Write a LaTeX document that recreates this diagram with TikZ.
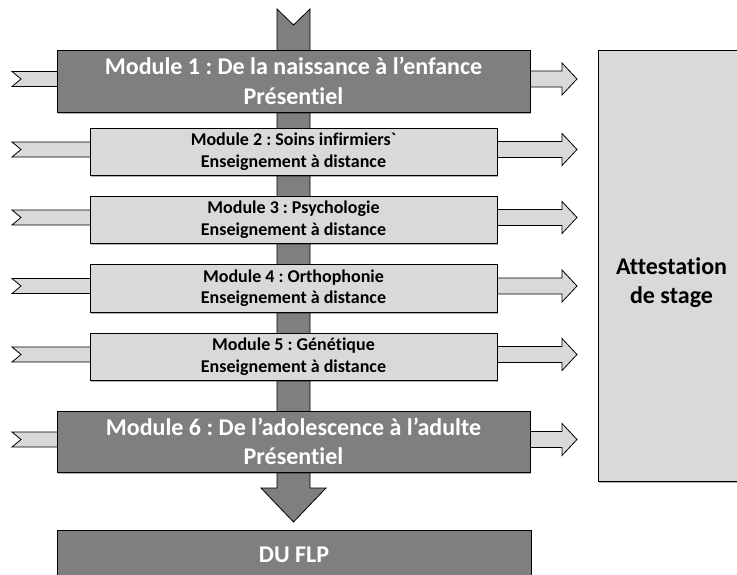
\documentclass[tikz,border=0pt]{standalone}
\usepackage{fontspec}
\setmainfont{Carlito}[Ligatures={NoCommon}]
\usetikzlibrary{calc,shadows}
\definecolor{darkbox}{HTML}{7F7F7F}
\definecolor{lightbox}{HTML}{D9D9D9}
\tikzset{
  boxbase/.style={rectangle, draw=black, line width=0.9pt, inner sep=0pt, align=center,
    font=\bfseries, drop shadow={shadow xshift=1.2pt, shadow yshift=-1.5pt, opacity=0.3, fill=black}},
  darkmod/.style={boxbase, fill=darkbox, text=white, font=\fontsize{24}{29.5}\selectfont\bfseries},
  lightmod/.style={boxbase, fill=lightbox, text=black, font=\fontsize{18}{21.5}\selectfont\bfseries},
  flowarr/.style={draw=black, line width=0.8pt, fill=lightbox, line join=miter},
  mainarr/.style={draw=black, line width=0.8pt, fill=darkbox, line join=miter},
}
\newcommand\inarrow[1]{%
  \draw[flowarr] ($(#1.west -| tailx)+(0,-9.5)$) -- ($(#1.west -| notchx)+(0,-2)$)
    -- ($(#1.west -| tailx)+(0,5.5)$) -- ($(#1.west)+(5,5.5)$) -- ($(#1.west)+(5,-9.5)$) -- cycle;}
\newcommand\outarrow[1]{%
  \draw[flowarr] ($(#1.east)+(-5,-10)$) -- ($(#1.east -| headx)+(0,-10)$)
    -- ($(#1.east -| headx)+(0,-18)$) -- ($(#1.east -| tipx)+(0,-2)$)
    -- ($(#1.east -| headx)+(0,14)$) -- ($(#1.east -| headx)+(0,6)$)
    -- ($(#1.east)+(-5,6)$) -- cycle;}
\begin{document}
\frenchspacing
\begin{tikzpicture}[x=1pt,y=-1pt]
\useasboundingbox (0,0) rectangle (737,574);
\coordinate (tailx) at (12,0);
\coordinate (notchx) at (21,0);
\coordinate (headx) at (562,0);
\coordinate (tipx) at (577,0);
% main vertical arrow
\coordinate (vtop) at (293.5,9);
\coordinate (vtip) at (293.5,522);
\draw[mainarr] (277,9) -- (293.5,25) -- (310,9) -- (310,488) -- (326,488) -- (vtip)
  -- (261,488) -- (277,488) -- cycle;
% box centres
\path
  (293.5,81)    coordinate (c1)
  (293.5,151.5) coordinate (c2)
  (293.5,219.5) coordinate (c3)
  (293.5,288)   coordinate (c4)
  (293.5,356.5) coordinate (c5)
  (293.5,441.5) coordinate (c6);
% placeholders giving anchors for the side arrows
\node[minimum width=473pt, minimum height=62pt, inner sep=0pt] (p1) at (c1) {};
\node[minimum width=407pt, minimum height=47pt, inner sep=0pt] (p2) at (c2) {};
\node[minimum width=407pt, minimum height=47pt, inner sep=0pt] (p3) at (c3) {};
\node[minimum width=407pt, minimum height=48pt, inner sep=0pt] (p4) at (c4) {};
\node[minimum width=407pt, minimum height=47pt, inner sep=0pt] (p5) at (c5) {};
\node[minimum width=473pt, minimum height=61pt, inner sep=0pt] (p6) at (c6) {};
\foreach \n in {p1,p2,p3,p4,p5,p6}{\inarrow{\n}\outarrow{\n}}
% module boxes
\node[darkmod, minimum width=473pt, minimum height=62pt] (m1) at (c1)
  {Module 1 : De la naissance à l’enfance\\Présentiel};
\node[lightmod, minimum width=407pt, minimum height=47pt] (m2) at (c2)
  {Module 2 : Soins infirmiers\textasciigrave\\Enseignement à distance};
\node[lightmod, minimum width=407pt, minimum height=47pt] (m3) at (c3)
  {Module 3 : Psychologie\\Enseignement à distance};
\node[lightmod, minimum width=407pt, minimum height=48pt] (m4) at (c4)
  {Module 4 : Orthophonie\\Enseignement à distance};
\node[lightmod, minimum width=407pt, minimum height=47pt] (m5) at (c5)
  {Module 5 : Génétique\\Enseignement à distance};
\node[darkmod, minimum width=473pt, minimum height=61pt] (m6) at (c6)
  {Module 6 : De l’adolescence à l’adulte\\Présentiel};
% final box
\node[darkmod, minimum width=474pt, minimum height=50pt] (du) at (294,555) {DU FLP};
% attestation
\node[boxbase, fill=lightbox, minimum width=147pt, minimum height=431pt] (att) at (671.5,265.5) {};
\node[font=\fontsize{24}{29}\selectfont\bfseries, align=center] (attlabel) at (671.5,283)
  {Attestation\\de stage};
\end{tikzpicture}
\end{document}
